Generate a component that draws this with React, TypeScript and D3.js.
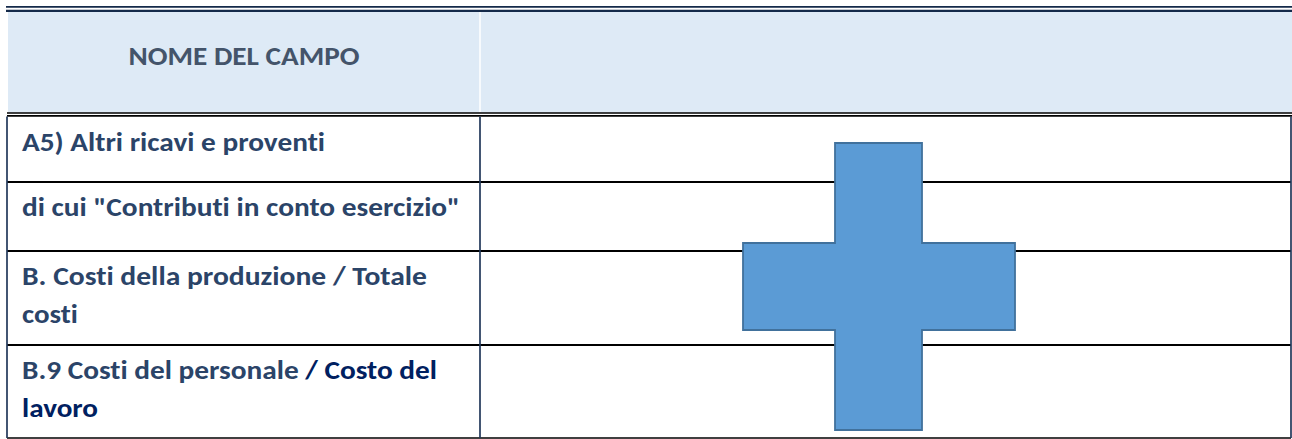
import { useEffect, useRef } from 'react';
import * as d3 from 'd3';

// table content
const headerLabel = 'NOME DEL CAMPO';
const rowLines: string[][] = [
  ['A5) Altri ricavi e proventi'],
  ['di cui "Contributi in conto esercizio"'],
  ['B. Costi della produzione / Totale', 'costi'],
  ['B.9 Costi del personale / Costo del', 'lavoro'],
];
// part of the last row written in the darker navy
const darkTail = ['/ Costo del', 'lavoro'];

const W = 1292;
const H = 439;
const FONT = 'Calibri, Carlito, Lato, "Open Sans", sans-serif';
const TEXT = '#2B4468';
const NAVY = '#002060';

// measured widths of the Calibri text in the reference
const lineWidths = [[303], [438], [405, 56], [415, 76]];
const rowEdges = [116.5, 182, 251, 345, 438];
const colX = [7, 480, 1291];

export default function App() {
  const ref = useRef<SVGSVGElement>(null);

  useEffect(() => {
    if (!ref.current) return;
    const svg = d3.select(ref.current);
    svg.selectAll('*').remove();
    svg.attr('width', W).attr('height', H);

    svg.append('rect').attr('width', W).attr('height', H).attr('fill', '#fff');

    // header band
    svg.append('rect').attr('x', 8).attr('y', 12).attr('width', W - 8).attr('height', 100.5).attr('fill', '#DEEAF6');
    svg.append('line').attr('x1', colX[1]).attr('x2', colX[1]).attr('y1', 12).attr('y2', 112)
      .attr('stroke', '#fff').attr('stroke-width', 1.5);

    // top double rule
    svg.append('line').attr('x1', 6).attr('x2', W).attr('y1', 6.9).attr('y2', 6.9).attr('stroke', '#142A4A').attr('stroke-width', 1.8);
    svg.append('line').attr('x1', 6).attr('x2', W).attr('y1', 10.9).attr('y2', 10.9).attr('stroke', '#142A4A').attr('stroke-width', 2.2);

    // header bottom double rule
    svg.append('line').attr('x1', 7).attr('x2', W).attr('y1', 113).attr('y2', 113).attr('stroke', '#000').attr('stroke-width', 1.7);
    svg.append('line').attr('x1', 7).attr('x2', W).attr('y1', 115.9).attr('y2', 115.9).attr('stroke', '#000').attr('stroke-width', 1.8);

    svg.append('text').attr('x', (8 + colX[1]) / 2).attr('y', 64.5).attr('text-anchor', 'middle')
      .attr('font-family', FONT).attr('font-weight', 'bold').attr('font-size', 27)
      .style('font-variant-ligatures', 'none')
      .attr('fill', '#44546A').attr('textLength', 231).attr('lengthAdjust', 'spacingAndGlyphs')
      .text(headerLabel);

    // row rules
    const g = svg.append('g');
    rowEdges.slice(1, -1).forEach(y => {
      g.append('line').attr('x1', colX[0]).attr('x2', colX[2]).attr('y1', y).attr('y2', y)
        .attr('stroke', '#000').attr('stroke-width', 1.8);
    });
    g.append('line').attr('x1', colX[0]).attr('x2', colX[2]).attr('y1', rowEdges[4]).attr('y2', rowEdges[4])
      .attr('stroke', '#000').attr('stroke-width', 1.3);
    colX.forEach(x => {
      g.append('line').attr('x1', x).attr('x2', x).attr('y1', 116.5).attr('y2', rowEdges[4])
        .attr('stroke', '#22385A').attr('stroke-width', 1.7);
    });

    // row labels
    rowLines.forEach((lines, i) => {
      const top = rowEdges[i];
      lines.forEach((line, j) => {
        const t = svg.append('text').attr('x', 22).attr('y', top + 34 + j * 38)
          .attr('font-family', FONT).attr('font-weight', 'bold').attr('font-size', 27)
          .style('font-variant-ligatures', 'none')
          .attr('textLength', lineWidths[i][j]).attr('lengthAdjust', 'spacingAndGlyphs');
        if (i === 3) {
          const tail = darkTail[j];
          const head = line.slice(0, line.length - tail.length);
          if (head) t.append('tspan').attr('fill', TEXT).text(head);
          t.append('tspan').attr('fill', NAVY).text(tail);
        } else {
          t.attr('fill', TEXT).text(line);
        }
      });
    });

    // the plus sign
    const p = d3.path();
    const [vx0, vx1, vy0, vy1] = [835, 922, 143, 430];
    const [hx0, hx1, hy0, hy1] = [743, 1015, 243, 330];
    p.moveTo(vx0, vy0);
    p.lineTo(vx1, vy0);
    p.lineTo(vx1, hy0);
    p.lineTo(hx1, hy0);
    p.lineTo(hx1, hy1);
    p.lineTo(vx1, hy1);
    p.lineTo(vx1, vy1);
    p.lineTo(vx0, vy1);
    p.lineTo(vx0, hy1);
    p.lineTo(hx0, hy1);
    p.lineTo(hx0, hy0);
    p.lineTo(vx0, hy0);
    p.closePath();
    svg.append('path').attr('d', p.toString()).attr('fill', '#5B9BD5')
      .attr('stroke', '#41719C').attr('stroke-width', 1.8);
  }, []);

  return (
    <div style={{ position: 'absolute', left: 0, top: 0 }}>
      <svg ref={ref} style={{ display: 'block' }} />
    </div>
  );
}
